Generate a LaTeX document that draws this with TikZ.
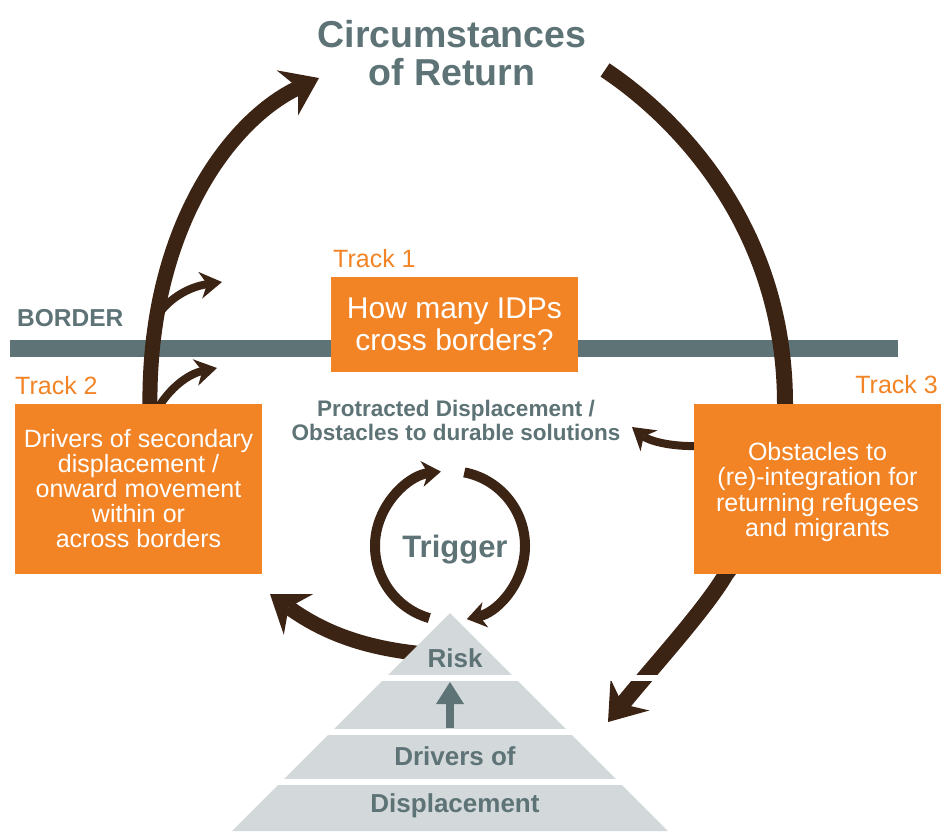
\documentclass[tikz,border=0pt]{standalone}
\usepackage{fontspec}
\setmainfont{Liberation Sans}
\usepackage{tikz}
\usetikzlibrary{arrows.meta}
\definecolor{brownarr}{HTML}{3C2415}
\definecolor{trackorange}{HTML}{F28426}
\definecolor{slate}{HTML}{5D7376}
\definecolor{pyrgray}{HTML}{D3D8DA}
\newcommand{\fsz}[2]{\fontsize{#1}{#2}\selectfont}

\begin{document}
\begin{tikzpicture}[x=1pt,y=-1pt,
   brownline/.style={draw=brownarr,line width=#1},
   bighead/.style={-{Stealth[length=35pt,width=50pt,inset=12pt,line width=0pt]}},
   smallhead/.style={-{Stealth[length=22pt,width=27pt,inset=7pt,line width=0pt]}},
   trighead/.style={-{Stealth[length=19pt,width=26pt,inset=6pt,line width=0pt]}},
   trackbox/.style={fill=trackorange,text=white,align=center,minimum width=247pt,inner sep=0pt},
   tracklabel/.style={text=trackorange,inner sep=0pt,font=\fsz{25}{25}},
   slatetext/.style={text=slate,inner sep=0pt,align=center}]
   \fill[white] (0,0) rectangle (942,831) ;
   \useasboundingbox (0,0) rectangle (942,831) ;

   \coordinate (barL) at (10,348.5) ;
   \coordinate (barR) at (898,348.5) ;
   \draw[slate,line width=17pt] (barL) -- (barR) ;

   \coordinate (t2arc) at (150,410) ;
   \coordinate (retL) at (319,78) ;
   \coordinate (retR) at (605,70) ;
   \coordinate (t3in) at (785,404) ;
   \coordinate (t3out) at (726,574) ;
   \coordinate (pyrR) at (608,722) ;
   \coordinate (pyrL) at (425,654) ;
   \coordinate (t2end) at (270,594) ;
   \coordinate (brA) at (154,322) ;
   \coordinate (brAend) at (222,282) ;
   \coordinate (brB) at (158,408) ;
   \coordinate (brBend) at (217,368) ;
   \coordinate (t3w) at (700,446) ;
   \coordinate (protend) at (632,427) ;
   \coordinate (trigC) at (450,546) ;
   \coordinate (apex) at (450,613) ;

   \draw[brownline=8pt,smallhead] (brA) .. controls (165,300) and (188,287) .. (brAend) ;
   \draw[brownline=8pt,smallhead] (brB) .. controls (170,388) and (188,374) .. (brBend) ;
   \draw[brownline=15pt,bighead] (t2arc) .. controls (147,230) and (230,120) .. (retL) ;
   \draw[brownline=16pt,bighead] (retR) .. controls (680,120) and (785,230) .. (t3in)
      .. controls (785,480) and (760,530) .. (t3out)
      .. controls (705,610) and (650,670) .. (pyrR) ;
   \draw[brownline=15pt,bighead] (pyrL) .. controls (360,648) and (320,630) .. (t2end) ;
   \draw[brownline=8pt,smallhead] (t3w) .. controls (668,447) and (648,440) .. (protend) ;
   \draw[brownline=10pt,trighead] ([shift={(106:75)}]trigC) arc[start angle=106,end angle=263,radius=75] ;
   \draw[brownline=10pt,trighead] ([shift={(281:75)}]trigC) arc[start angle=281,end angle=437,radius=75] ;

   \node[trackbox,minimum height=95pt,font=\fsz{30}{32}] (t1) at (454.5,324.5) {How many IDPs\\cross borders?};
   \node[trackbox,minimum height=170pt,font=\fsz{25}{25}] (t2) at (138.5,489) {Drivers of secondary\\displacement /\\onward movement\\within or\\across borders};
   \node[trackbox,minimum height=170pt,font=\fsz{25}{25.5}] (t3) at (817.5,489) {};
   \node[text=white,align=center,inner sep=0pt,font=\fsz{25}{25.5}] (t3txt) at (817.5,492) {Obstacles to\\(re)-integration for\\returning refugees\\and migrants};

   \node[tracklabel,anchor=base west] (lab1) at (333,267) {Track 1};
   \node[tracklabel,anchor=base west] (lab2) at (15,394) {Track 2};
   \node[tracklabel,anchor=base east] (lab3) at (938,393) {Track 3};

   \fill[pyrgray] (apex) -- (668,831) -- (232,831) -- cycle ;
   \foreach \yy in {677.5,731.5,781.5} \draw[white,line width=6pt] (200,\yy) -- (700,\yy) ;
   \draw[slate,line width=8pt,-{Triangle[length=22pt,width=28pt,line width=0pt]}] (450,728) -- (450,682) ;

   \node[slatetext,font=\bfseries\fsz{37.5}{38.5}] (title) at (452,53) {Circumstances\\of Return};
   \node[slatetext,font=\bfseries\fsz{24.5}{24.5},anchor=base west] (border) at (17,326) {BORDER};
   \node[slatetext,font=\bfseries\fsz{22.5}{24}] (prot) at (456,420) {Protracted Displacement /\\Obstacles to durable solutions};
   \node[slatetext,font=\bfseries\fsz{31}{31},anchor=base] (trig) at (455,557) {Trigger};
   \node[slatetext,font=\bfseries\fsz{26}{26},anchor=base] (risk) at (455,667) {Risk};
   \node[slatetext,font=\bfseries\fsz{26}{26},anchor=base] (drv) at (455,765) {Drivers of};
   \node[slatetext,font=\bfseries\fsz{26}{26},anchor=base] (disp) at (455,812) {Displacement};
\end{tikzpicture}
\end{document}
